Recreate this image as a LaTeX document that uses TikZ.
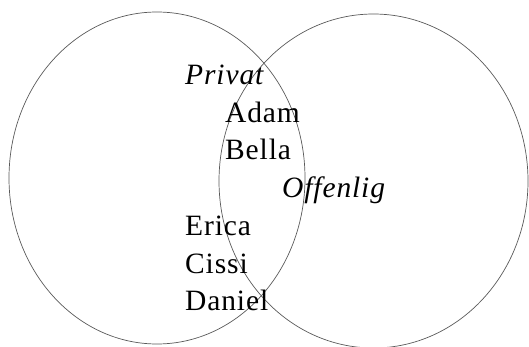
\documentclass[tikz,border=0pt]{standalone}
\usepackage{fontspec}
\setmainfont{Liberation Serif}[LetterSpace=3]
\usepackage{tikz}

\begin{document}
\begin{tikzpicture}[x=1pt, y=-1pt, font=\fontsize{29.5}{29.5}\selectfont]
    \useasboundingbox (0,0) rectangle (529,347);

    % Os dois conjuntos
    \draw[gray!70!black, line width=0.7pt] (157,178) ellipse [x radius=148, y radius=166];
    \draw[gray!70!black, line width=0.7pt] (373.5,181) ellipse [x radius=154.5, y radius=167];

    \node[anchor=base west, inner sep=0pt, font=\fontsize{29.5}{29.5}\selectfont\itshape] (privat) at (185,85) {Privat};
    \node[anchor=base west, inner sep=0pt, font=\fontsize{29.5}{29.5}\selectfont\itshape] (offenlig) at (282,197) {Offenlig};

    \foreach \nome/\xpos/\ypos in {Adam/225/123, Bella/225/160, Erica/185/235, Cissi/185/273, Daniel/185/310}
        \node[anchor=base west, inner sep=0pt] (\nome) at (\xpos,\ypos) {\nome};

\end{tikzpicture}
\end{document}
